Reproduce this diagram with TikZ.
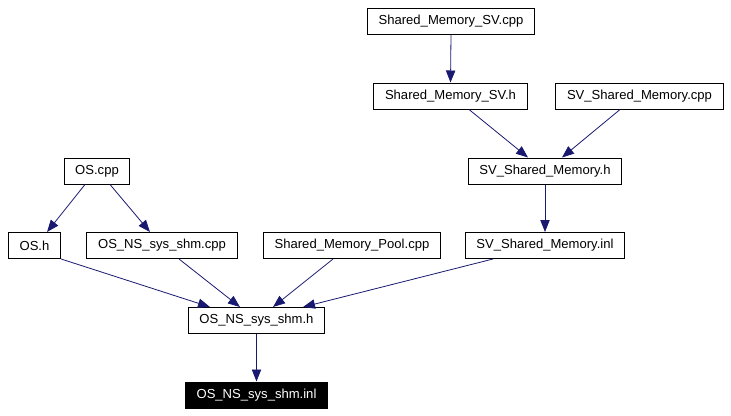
\documentclass[tikz,border=0pt]{standalone}
\usepackage{fontspec}
\setmainfont{Liberation Sans}
\usetikzlibrary{arrows.meta}
\definecolor{edgeblue}{HTML}{191970}
\begin{document}
\begin{tikzpicture}[x=0.75pt,y=-0.75pt,
  file/.style={draw,line width=0.75pt,inner xsep=8.4pt,inner ysep=0pt,minimum height=19.5pt,font=\fontsize{9.8}{11}\selectfont},
  curfile/.style={file,fill=black,text=white},
  inc/.style={draw=edgeblue,line width=0.6pt,-{Triangle[length=9pt,width=7pt]}}]
\useasboundingbox (0,0) rectangle (731,415);
\node[file] (smsvcpp) at (451,21) {Shared\_Memory\_SV.cpp};
\node[file] (smsvh) at (450.5,96) {Shared\_Memory\_SV.h};
\node[file] (svcpp) at (639.5,96) {SV\_Shared\_Memory.cpp};
\node[file] (svh) at (545,171) {SV\_Shared\_Memory.h};
\node[file] (oscpp) at (97,171) {OS.cpp};
\node[file] (osh) at (34.5,245.5) {OS.h};
\node[file] (shmcpp) at (162,245.5) {OS\_NS\_sys\_shm.cpp};
\node[file] (poolcpp) at (352,245.5) {Shared\_Memory\_Pool.cpp};
\node[file] (svinl) at (545,245.5) {SV\_Shared\_Memory.inl};
\node[file] (shmh) at (256.5,320.5) {OS\_NS\_sys\_shm.h};
\node[curfile] (shminl) at (256.5,395) {OS\_NS\_sys\_shm.inl};
\draw[inc] (smsvcpp.south) -- (smsvh.north);
\draw[inc] ([xshift=13.9]smsvh.south) -- ([xshift=-12.75]svh.north);
\draw[inc] ([xshift=-14.6]svcpp.south) -- ([xshift=12.75]svh.north);
\draw[inc] (svh.south) -- (svinl.north);
\draw[inc] ([xshift=-9]oscpp.south) -- ([xshift=9.4]osh.north);
\draw[inc] ([xshift=9.75]oscpp.south) -- ([xshift=-9]shmcpp.north);
\draw[inc] (osh.south east) -- ([xshift=-34.9]shmh.north);
\draw[inc] ([xshift=12.75]shmcpp.south) -- ([xshift=-12.4]shmh.north);
\draw[inc] ([xshift=-14.25]poolcpp.south) -- ([xshift=12.4]shmh.north);
\draw[inc] ([xshift=-39]svinl.south) -- ([xshift=34.9]shmh.north);
\draw[inc] (shmh.south) -- (shminl.north);
\end{tikzpicture}
\end{document}
